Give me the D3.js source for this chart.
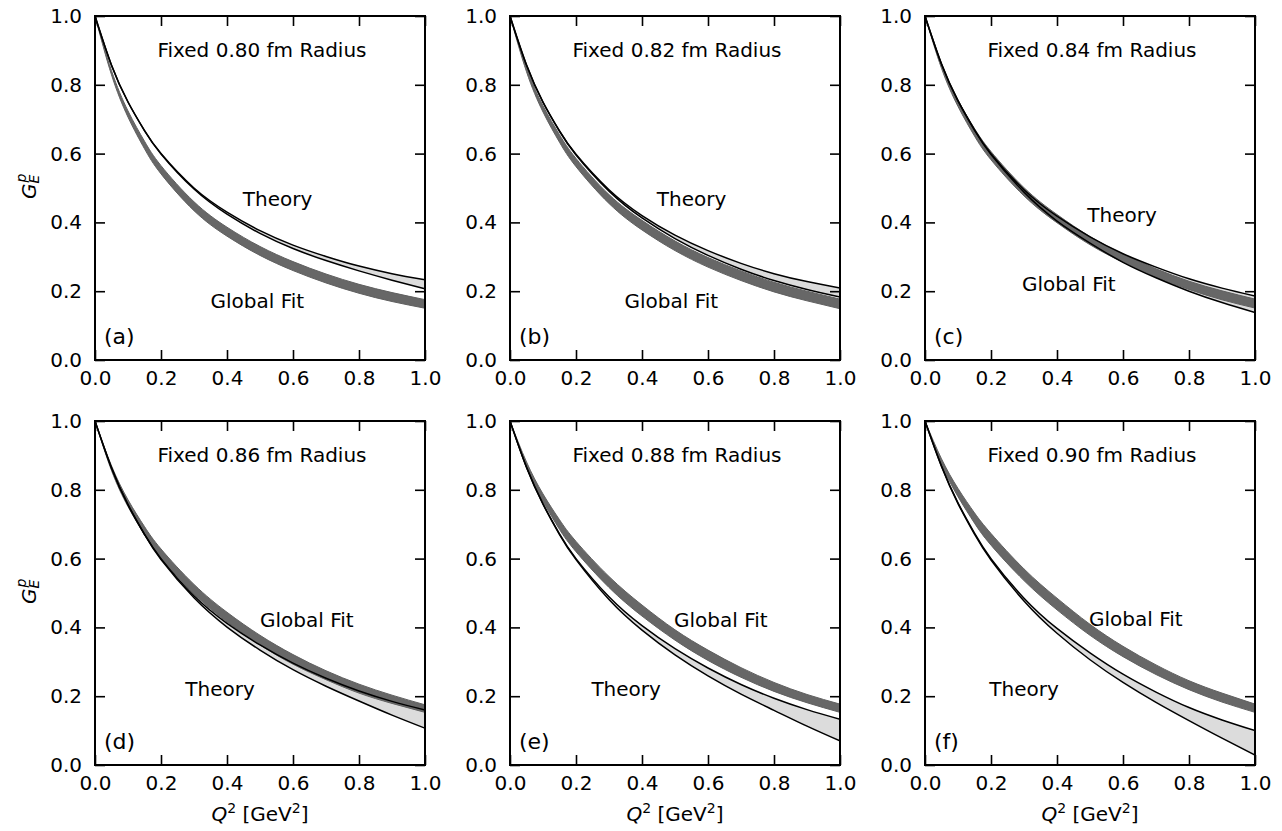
<!DOCTYPE html>
<html>
<head>
<meta charset="utf-8">
<script src="https://cdn.jsdelivr.net/npm/d3@7"></script>
<style>
  html, body { margin: 0; padding: 0; background: #fff; }
  svg { display: block; font-family: "DejaVu Sans", sans-serif; }
</style>
</head>
<body>
<svg id="chart" width="1282" height="831"></svg>
<script>
// Q^2 sample points [GeV^2]
const q2 = [0, 0.05, 0.1, 0.15, 0.2, 0.3, 0.4, 0.5, 0.6, 0.7, 0.8, 0.9, 1.0];

// Global fit bands: centre values and half widths
const globalMidA = [1, 0.835, 0.715, 0.625, 0.553, 0.447, 0.373, 0.317, 0.273, 0.237, 0.207, 0.183, 0.163];
const globalMidB = [1, 0.844, 0.73, 0.644, 0.574, 0.468, 0.392, 0.332, 0.284, 0.245, 0.212, 0.186, 0.163];
const globalMidC = [1, 0.854, 0.746, 0.662, 0.594, 0.489, 0.411, 0.347, 0.296, 0.253, 0.217, 0.188, 0.164];
const globalMidD = [1, 0.863, 0.761, 0.681, 0.615, 0.511, 0.43, 0.363, 0.307, 0.261, 0.222, 0.191, 0.164];
const globalMidE = [1, 0.873, 0.777, 0.699, 0.635, 0.532, 0.449, 0.378, 0.319, 0.269, 0.227, 0.193, 0.165];
const globalMidF = [1, 0.882, 0.792, 0.718, 0.656, 0.553, 0.468, 0.393, 0.33, 0.277, 0.232, 0.196, 0.165];

const globalHalfA = [0, 0.006, 0.009, 0.011, 0.012, 0.013, 0.013, 0.013, 0.013, 0.013, 0.013, 0.013, 0.0125];
const globalHalfB = [0, 0.006, 0.009, 0.011, 0.012, 0.013, 0.014, 0.014, 0.014, 0.014, 0.014, 0.014, 0.014];
const globalHalfC = [0, 0.006, 0.009, 0.011, 0.012, 0.012, 0.012, 0.012, 0.012, 0.012, 0.012, 0.013, 0.013];
const globalHalfD = [0, 0.007, 0.01, 0.012, 0.013, 0.014, 0.014, 0.014, 0.014, 0.013, 0.013, 0.012, 0.011];
const globalHalfE = [0, 0.008, 0.011, 0.014, 0.015, 0.016, 0.016, 0.015, 0.015, 0.014, 0.013, 0.012, 0.012];
const globalHalfF = [0, 0.008, 0.012, 0.015, 0.017, 0.017, 0.017, 0.016, 0.015, 0.014, 0.013, 0.013, 0.012];

// Theory bands: upper and lower edges
const theoryUpA = [1, 0.857, 0.75, 0.667, 0.6, 0.5, 0.43, 0.376, 0.334, 0.301, 0.273, 0.251, 0.233];
const theoryLoA = [1, 0.857, 0.75, 0.667, 0.599, 0.497, 0.424, 0.368, 0.324, 0.289, 0.259, 0.232, 0.207];
const theoryUpB = [1, 0.858, 0.75, 0.666, 0.598, 0.495, 0.42, 0.363, 0.318, 0.281, 0.251, 0.228, 0.209];
const theoryLoB = [1, 0.857, 0.749, 0.665, 0.596, 0.491, 0.413, 0.353, 0.304, 0.264, 0.231, 0.205, 0.183];
const theoryUpC = [1, 0.861, 0.754, 0.669, 0.6, 0.495, 0.418, 0.358, 0.309, 0.27, 0.236, 0.209, 0.186];
const theoryLoC = [1, 0.86, 0.753, 0.668, 0.597, 0.488, 0.404, 0.34, 0.284, 0.239, 0.2, 0.167, 0.138];
const theoryUpD = [1, 0.864, 0.757, 0.671, 0.6, 0.492, 0.412, 0.349, 0.296, 0.252, 0.215, 0.185, 0.16];
const theoryLoD = [1, 0.863, 0.756, 0.67, 0.597, 0.486, 0.401, 0.334, 0.277, 0.229, 0.186, 0.145, 0.107];
const theoryUpE = [1, 0.866, 0.759, 0.672, 0.6, 0.489, 0.405, 0.338, 0.282, 0.234, 0.194, 0.161, 0.133];
const theoryLoE = [1, 0.865, 0.758, 0.67, 0.597, 0.481, 0.392, 0.32, 0.259, 0.206, 0.159, 0.113, 0.07];
const theoryUpF = [1, 0.869, 0.762, 0.674, 0.6, 0.485, 0.397, 0.326, 0.264, 0.212, 0.167, 0.131, 0.1];
const theoryLoF = [1, 0.868, 0.76, 0.671, 0.596, 0.477, 0.383, 0.306, 0.24, 0.182, 0.129, 0.078, 0.029];

// Panel texts
const panelLetters = ["(a)", "(b)", "(c)", "(d)", "(e)", "(f)"];
const panelRadii = ["0.80", "0.82", "0.84", "0.86", "0.88", "0.90"];
// label anchor positions in data coords [x centre, y baseline]
const theoryLabelPos = [[0.553, 0.449], [0.55, 0.449], [0.597, 0.40], [0.379, 0.201], [0.352, 0.201], [0.30, 0.20]];
const globalLabelPos = [[0.492, 0.15], [0.489, 0.15], [0.436, 0.20], [0.642, 0.401], [0.639, 0.401], [0.639, 0.403]];
const tickValues = [0, 0.2, 0.4, 0.6, 0.8, 1.0];

const globalMids = [globalMidA, globalMidB, globalMidC, globalMidD, globalMidE, globalMidF];
const globalHalves = [globalHalfA, globalHalfB, globalHalfC, globalHalfD, globalHalfE, globalHalfF];
const theoryUps = [theoryUpA, theoryUpB, theoryUpC, theoryUpD, theoryUpE, theoryUpF];
const theoryLos = [theoryLoA, theoryLoB, theoryLoC, theoryLoD, theoryLoE, theoryLoF];

const svg = d3.select("#chart");
const colLeft = [95, 510, 925];
const rowTop = [16, 421];
const W = 330, H = 344;
const FS = 20;

panelLetters.forEach((letter, i) => {
  const col = i % 3, row = Math.floor(i / 3);
  const x0 = colLeft[col], y0 = rowTop[row];
  const x = d3.scaleLinear().domain([0, 1]).range([0, W]);
  const y = d3.scaleLinear().domain([0, 1]).range([H, 0]);
  const g = svg.append("g").attr("transform", `translate(${x0},${y0})`);

  const clipId = "clip" + i;
  g.append("clipPath").attr("id", clipId).append("rect").attr("width", W).attr("height", H);
  const plot = g.append("g").attr("clip-path", `url(#${clipId})`);

  const tData = q2.map((q, k) => ({ q, lo: theoryLos[i][k], hi: theoryUps[i][k] }));
  const gData = q2.map((q, k) => ({ q, lo: globalMids[i][k] - globalHalves[i][k], hi: globalMids[i][k] + globalHalves[i][k] }));
  const curve = d3.curveNatural;

  const area = d3.area().x(d => x(d.q)).y0(d => y(d.lo)).y1(d => y(d.hi)).curve(curve);
  plot.append("path").datum(tData).attr("d", area).attr("fill", "#dcdcdc").attr("stroke", "none");
  plot.append("path").datum(gData).attr("d", area).attr("fill", "#676767")
      .attr("stroke", "#606060").attr("stroke-width", 1);
  const lineHi = d3.line().x(d => x(d.q)).y(d => y(d.hi)).curve(curve);
  const lineLo = d3.line().x(d => x(d.q)).y(d => y(d.lo)).curve(curve);
  plot.append("path").datum(tData).attr("d", lineHi).attr("fill", "none").attr("stroke", "#000").attr("stroke-width", 1.5);
  plot.append("path").datum(tData).attr("d", lineLo).attr("fill", "none").attr("stroke", "#000").attr("stroke-width", 1.5);

  // axes: ticks inward on all four sides
  const fmt = d3.format(".1f");
  const ax = (gen, tr, labels) => {
    const a = g.append("g").attr("transform", tr)
      .call(gen.tickValues(tickValues).tickSize(-10).tickPadding(labels === "left" ? 13 : 11)
        .tickFormat(labels ? fmt : () => ""));
    a.select(".domain").remove();
    a.selectAll(".tick line").attr("stroke", "#000").attr("stroke-width", 1.6);
    a.selectAll(".tick text").attr("font-size", FS).attr("font-family", "DejaVu Sans").attr("fill", "#000");
    return a;
  };
  ax(d3.axisLeft(y), "translate(0,0)", "left");
  ax(d3.axisBottom(x), `translate(0,${H})`, "bottom");
  ax(d3.axisTop(x), "translate(0,0)", null);
  ax(d3.axisRight(y), `translate(${W},0)`, null);

  g.append("rect").attr("width", W).attr("height", H).attr("fill", "none")
    .attr("stroke", "#000").attr("stroke-width", 2);

  // texts
  g.append("text").attr("x", W / 2 + 2).attr("y", 41).attr("text-anchor", "middle")
    .attr("font-size", FS).text(`Fixed ${panelRadii[i]} fm Radius`);
  g.append("text").attr("x", x(theoryLabelPos[i][0])).attr("y", y(theoryLabelPos[i][1]))
    .attr("text-anchor", "middle").attr("font-size", FS).text("Theory");
  g.append("text").attr("x", x(globalLabelPos[i][0])).attr("y", y(globalLabelPos[i][1]))
    .attr("text-anchor", "middle").attr("font-size", FS).text("Global Fit");
  g.append("text").attr("x", 9).attr("y", H - 16).attr("font-size", 22).text(letter);

  // y label on left column
  if (col === 0) {
    const yl = g.append("g").attr("transform", `translate(${36 - x0},${H / 2 - 1}) rotate(-90)`);
    yl.append("text").attr("x", -12).attr("y", 0).attr("font-size", FS).attr("font-style", "italic").text("G");
    yl.append("text").attr("x", 3.5).attr("y", 3).attr("font-size", 14).attr("font-style", "italic").text("E");
    yl.append("text").attr("x", 4.5).attr("y", -10.5).attr("font-size", 14).attr("font-style", "italic").text("p");
  }
  // x label on bottom row
  if (row === 1) {
    const t = g.append("text").attr("x", W / 2).attr("y", 821 - y0).attr("text-anchor", "middle").attr("font-size", FS);
    t.append("tspan").attr("font-style", "italic").text("Q");
    t.append("tspan").attr("font-size", 14).attr("dy", -8).text("2");
    t.append("tspan").attr("dy", 8).text(" [GeV");
    t.append("tspan").attr("font-size", 14).attr("dy", -8).text("2");
    t.append("tspan").attr("dy", 8).text("]");
  }
});
</script>
</body>
</html>
